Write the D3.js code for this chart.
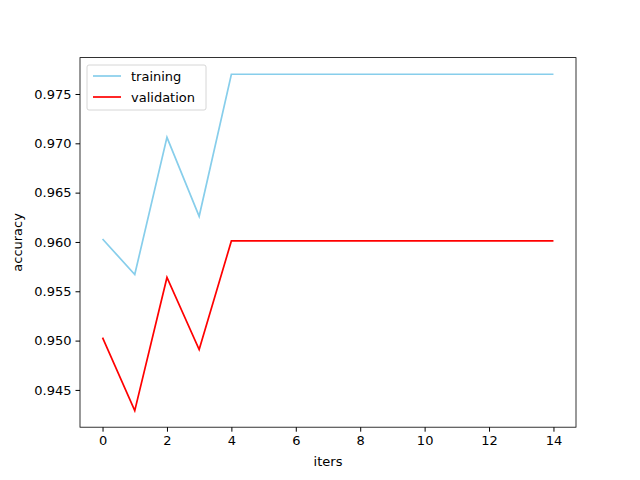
<!DOCTYPE html>
<html><head><meta charset="utf-8">
<script src="https://cdn.jsdelivr.net/npm/d3@7"></script>
<style>body{margin:0;background:#fff}text{font-family:"DejaVu Sans",sans-serif;font-size:13px}</style>
</head><body><div id="chart"></div>
<script>
const iters = d3.range(15);
const training = [0.9603, 0.9567, 0.9706, 0.9626, 0.9770, 0.9770, 0.9770, 0.9770, 0.9770, 0.9770, 0.9770, 0.9770, 0.9770, 0.9770, 0.9770];
const validation = [0.9503, 0.9429, 0.9564, 0.9491, 0.9601, 0.9601, 0.9601, 0.9601, 0.9601, 0.9601, 0.9601, 0.9601, 0.9601, 0.9601, 0.9601];
const yTicks = [0.945, 0.950, 0.955, 0.960, 0.965, 0.970, 0.975];
const xTicks = [0, 2, 4, 6, 8, 10, 12, 14];

const L = 80, R = 576, T = 57.6, B = 427.2;
const svg = d3.select("#chart").append("svg").attr("width", 640).attr("height", 480);
const x = d3.scaleLinear().domain([-0.7, 14.7]).range([L, R]);
const y = d3.scaleLinear().domain([0.94122, 0.97869]).range([B, T]);

svg.append("g").attr("transform", `translate(0,${B})`)
  .call(d3.axisBottom(x).tickValues(xTicks).tickSize(4.5).tickPadding(4).tickFormat(d3.format("d")));
svg.append("g").attr("transform", `translate(${L},0)`)
  .call(d3.axisLeft(y).tickValues(yTicks).tickSize(4.5).tickPadding(4).tickFormat(d3.format(".3f")));
svg.selectAll(".domain").remove();
svg.selectAll(".tick text").attr("fill", "#000").style("font-size", "13px");
svg.append("rect").attr("x", L).attr("y", T).attr("width", R - L).attr("height", B - T)
  .attr("fill", "none").attr("stroke", "#000").attr("stroke-width", 0.8);

const line = d3.line().x((d, i) => x(iters[i])).y(d => y(d));
svg.append("path").datum(training).attr("d", line).attr("fill", "none").attr("stroke", "skyblue").attr("stroke-width", 1.7);
svg.append("path").datum(validation).attr("d", line).attr("fill", "none").attr("stroke", "red").attr("stroke-width", 1.7);

svg.append("text").attr("x", (L + R) / 2).attr("y", 466).attr("text-anchor", "middle").text("iters");
svg.append("text").attr("transform", `translate(22,${(T + B) / 2}) rotate(-90)`).attr("text-anchor", "middle").text("accuracy");

const lg = svg.append("g").attr("transform", "translate(87,65)");
lg.append("rect").attr("width", 119).attr("height", 45).attr("rx", 2).attr("fill", "#fff")
  .attr("stroke", "#ccc").attr("stroke-width", 0.8);
[["training", "skyblue"], ["validation", "red"]].forEach(([name, c], i) => {
  const yy = 11 + i * 21;
  lg.append("line").attr("x1", 6).attr("x2", 34).attr("y1", yy).attr("y2", yy).attr("stroke", c).attr("stroke-width", 1.7);
  lg.append("text").attr("x", 44).attr("y", yy + 5).text(name);
});
</script></body></html>
